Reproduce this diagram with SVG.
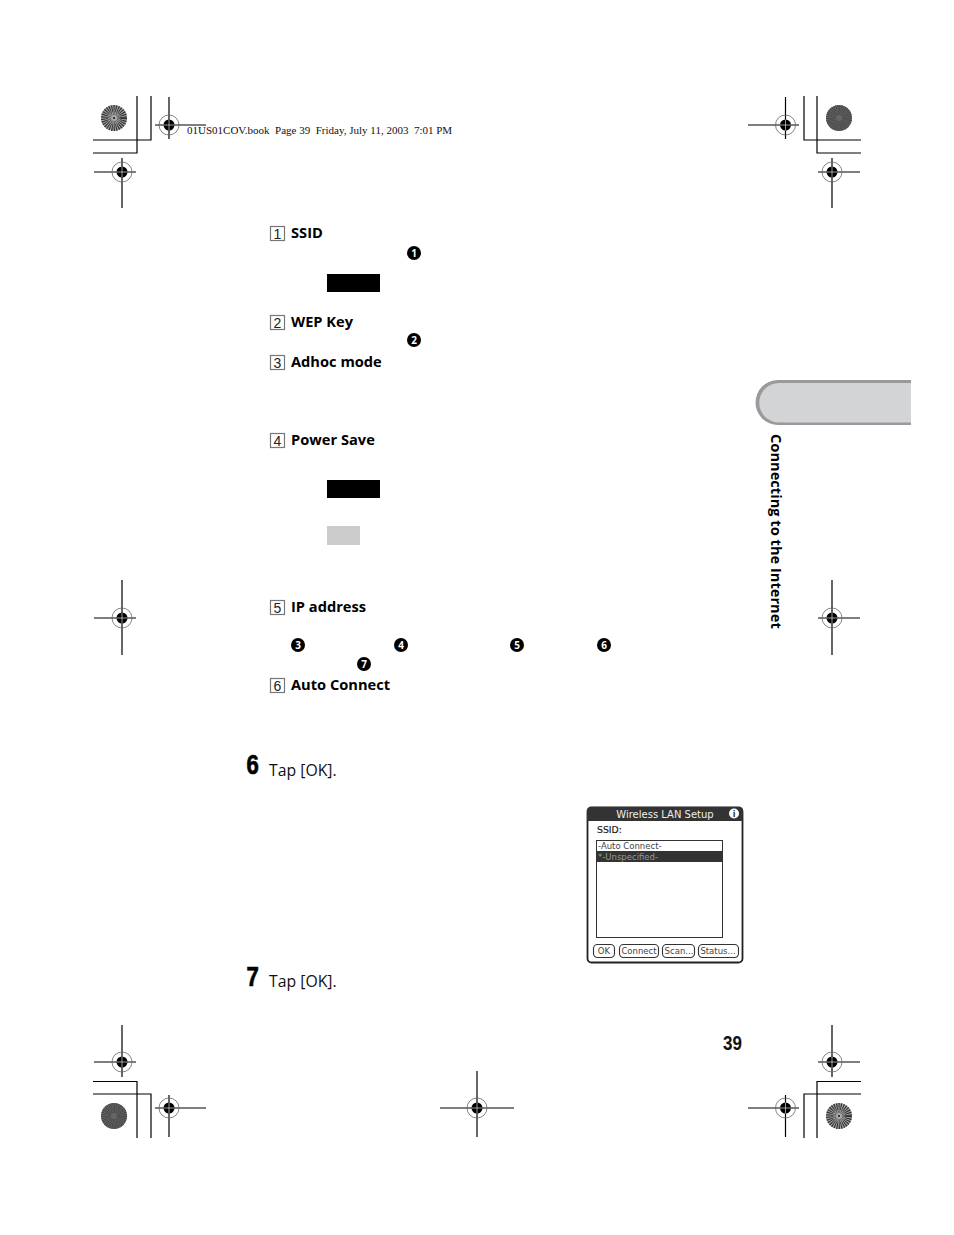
<svg xmlns="http://www.w3.org/2000/svg" width="954" height="1235" viewBox="0 0 954 1235">
<style>
.l{stroke:#000;stroke-width:1.2;fill:none}
.h{font:700 14.650px "Open Sans","Noto Sans",sans-serif;fill:#000}
.t{font:400 15.800px "Open Sans","Noto Sans",sans-serif;fill:#111}
.d{font:400 14px "Liberation Sans",sans-serif;fill:#222;text-anchor:middle}
.b{fill:#fff;stroke:#777;stroke-width:1.200}
.n{font:700 10px "Open Sans",sans-serif;fill:#fff;text-anchor:middle}
.big{font:700 27px "Liberation Sans",sans-serif;fill:#000;stroke:#000;stroke-width:.7}
.u{font:400 8.500px "DejaVu Sans",sans-serif;fill:#444}
.bt{fill:#fff;stroke:#333;stroke-width:1.100}
</style>
<defs>
<g id="mk">
<circle r="10" fill="none" stroke="#666" stroke-width="0.8"/>
<circle r="5.500" fill="#000"/>
<path d="M-5.500 0H5.500M0-5.500V5.500" stroke="#fff" stroke-width="0.600"/>
</g>
<g id="lightS">
<circle r="13" fill="#aaa"/>
<circle r="9.500" fill="none" stroke="#333" stroke-width="7" stroke-dasharray="1.100 0.900"/>
<circle r="4.500" fill="none" stroke="#555" stroke-width="3" stroke-dasharray="0.800 0.700"/>
<circle r="1" fill="#111"/>
</g>
<g id="darkS">
<circle r="13" fill="#666"/>
<circle r="9.500" fill="none" stroke="#444" stroke-width="7" stroke-dasharray="0.800 0.800"/>
<circle r="4.500" fill="none" stroke="#444" stroke-width="3" stroke-dasharray="0.700 0.700"/>
</g>
</defs>
<rect width="954" height="1235" fill="#fff"/>

<g id="crop-marks">
<path class="l" d="M151 96V140H93M137 96V153H93M804 96V140H861M817 96V153H861M137 1138V1081.500H93M151 1138V1094H93M817 1138V1081.500H861M804 1138V1094H861"/>
<use href="#lightS" x="114" y="118"/>
<use href="#darkS" x="839" y="118"/>
<use href="#darkS" x="114" y="1116"/>
<use href="#lightS" x="839" y="1116"/>
<path class="l" d="M155 125H206M169 97V139"/><use href="#mk" x="169" y="125"/>
<path class="l" d="M748 125H799M785.500 97V139"/><use href="#mk" x="785.500" y="125"/>
<path class="l" d="M94 172H136M122 158V208"/><use href="#mk" x="122" y="172"/>
<path class="l" d="M818 172H860M832 158V208"/><use href="#mk" x="832" y="172"/>
<path class="l" d="M94 618H136M122 580V655"/><use href="#mk" x="122" y="618"/>
<path class="l" d="M818 618H860M832 580V655"/><use href="#mk" x="832" y="618"/>
<path class="l" d="M94 1062H136M122 1025V1077"/><use href="#mk" x="122" y="1062"/>
<path class="l" d="M818 1062H860M832 1025V1077"/><use href="#mk" x="832" y="1062"/>
<path class="l" d="M155 1108H206M169 1095V1137"/><use href="#mk" x="169" y="1108"/>
<path class="l" d="M440 1108H514M477 1071V1137"/><use href="#mk" x="477" y="1108"/>
<path class="l" d="M748 1108H799M785.500 1095V1137"/><use href="#mk" x="785.500" y="1108"/>
</g>
<text id="slug" x="187" y="133.500" font-family="Liberation Serif,serif" font-size="11" fill="#111" xml:space="preserve">01US01COV.book  Page 39  Friday, July 11, 2003  7:01 PM</text>

<g id="item-1"><rect class="b" x="270.500" y="226.500" width="14" height="14"/><text class="d" x="277.500" y="238.500">1</text><text class="h" x="291" y="238">SSID</text></g>
<g id="item-2"><rect class="b" x="270.500" y="315.500" width="14" height="14"/><text class="d" x="277.500" y="327.500">2</text><text class="h" x="291" y="327">WEP Key</text></g>
<g id="item-3"><rect class="b" x="270.500" y="355.500" width="14" height="14"/><text class="d" x="277.500" y="367.500">3</text><text class="h" x="291" y="367">Adhoc mode</text></g>
<g id="item-4"><rect class="b" x="270.500" y="433.500" width="14" height="14"/><text class="d" x="277.500" y="445.500">4</text><text class="h" x="291" y="445">Power Save</text></g>
<g id="item-5"><rect class="b" x="270.500" y="600.500" width="14" height="14"/><text class="d" x="277.500" y="612.500">5</text><text class="h" x="291" y="612">IP address</text></g>
<g id="item-6"><rect class="b" x="270.500" y="678.500" width="14" height="14"/><text class="d" x="277.500" y="690.500">6</text><text class="h" x="291" y="690">Auto Connect</text></g>

<g id="redactions">
<rect x="327" y="274" width="53" height="18" fill="#000"/>
<rect x="327" y="480" width="53" height="18" fill="#000"/>
<rect x="327" y="526" width="33" height="19" fill="#ccc"/>
</g>

<g id="callouts">
<g><circle cx="414" cy="253" r="7"/><text class="n" x="414" y="256.500">1</text></g>
<g><circle cx="414" cy="340" r="7"/><text class="n" x="414" y="343.500">2</text></g>
<g><circle cx="298" cy="645" r="7"/><text class="n" x="298" y="648.500">3</text></g>
<g><circle cx="401" cy="645" r="7"/><text class="n" x="401" y="648.500">4</text></g>
<g><circle cx="517" cy="645" r="7"/><text class="n" x="517" y="648.500">5</text></g>
<g><circle cx="604" cy="645" r="7"/><text class="n" x="604" y="648.500">6</text></g>
<g><circle cx="364" cy="664" r="7"/><text class="n" x="364" y="667.500">7</text></g>
</g>

<g id="tab">
<path d="M911 380H778A22.500 22.500 0 0 0 778 425H911Z" fill="#9a9a9c"/>
<path d="M911 383H779A19.500 19.500 0 0 0 779 422.500H911Z" fill="#d3d4d6"/>
</g>
<text id="tab-label" transform="translate(771 434) rotate(90)" class="h">Connecting to the Internet</text>

<g id="step-6"><text class="big" transform="translate(246.500 774) scale(0.82 1)">6</text><text class="t" x="269" y="776">Tap [OK].</text></g>
<g id="step-7"><text class="big" transform="translate(246.500 986) scale(0.82 1)">7</text><text class="t" x="269" y="987">Tap [OK].</text></g>
<text id="page-number" transform="translate(723 1050) scale(0.85 1)" font-family="Liberation Sans,sans-serif" font-weight="700" font-size="20" fill="#111">39</text>

<g id="screenshot">
<rect x="587.500" y="807.500" width="155" height="155" rx="4" fill="#fff" stroke="#222" stroke-width="1.800"/>
<path d="M587 821V811a4 4 0 0 1 4-4H739a4 4 0 0 1 4 4V821Z" fill="#333"/>
<text x="665" y="818" text-anchor="middle" font-family="DejaVu Sans,sans-serif" font-size="10" fill="#eee">Wireless LAN Setup</text>
<circle cx="734" cy="813.500" r="5" fill="#fff"/><text x="734" y="817" text-anchor="middle" font-family="DejaVu Sans,sans-serif" font-weight="700" font-size="8" fill="#333">i</text>
<text x="597" y="833" font-family="DejaVu Sans,sans-serif" font-size="9.300" fill="#222" stroke="#222" stroke-width=".2">SSID:</text>
<rect x="596.500" y="840.500" width="126" height="97" fill="#fff" stroke="#333"/>
<text class="u" x="598" y="849">-Auto Connect-</text>
<rect x="597" y="851" width="125" height="11" fill="#333"/>
<text x="598" y="860" font-family="DejaVu Sans,sans-serif" font-size="8.500" fill="#999">*-Unspecified-</text>
<rect class="bt" x="593.500" y="944.500" width="21" height="13" rx="4"/><text class="u" x="604" y="954" text-anchor="middle">OK</text>
<rect class="bt" x="619.500" y="944.500" width="39" height="13" rx="4"/><text class="u" x="639" y="954" text-anchor="middle">Connect</text>
<rect class="bt" x="662.500" y="944.500" width="32" height="13" rx="4"/><text class="u" x="679" y="954" text-anchor="middle">Scan...</text>
<rect class="bt" x="698.500" y="944.500" width="40" height="13" rx="4"/><text class="u" x="718" y="954" text-anchor="middle">Status...</text>
</g>
</svg>
